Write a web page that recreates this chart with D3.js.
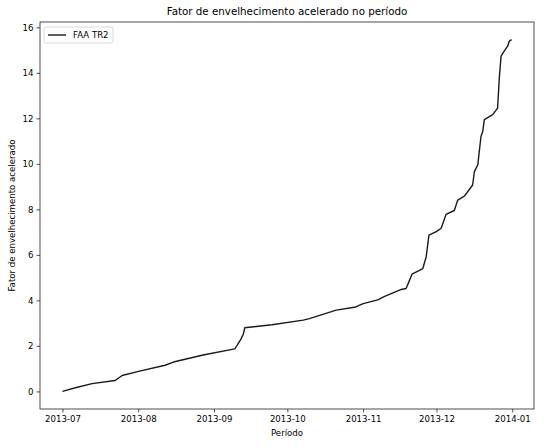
<!DOCTYPE html>
<html>
<head>
<meta charset="utf-8">
<script src="https://cdn.jsdelivr.net/npm/d3@7"></script>
<style>
  body { margin: 0; background: #fff; }
  text { font-family: "DejaVu Sans", sans-serif; fill: #000; }
</style>
</head>
<body>
<div class="chart"></div>
<script>
// series (date, accumulated ageing factor)
var dates = [
  "2013-07-01T00", "2013-07-06T07", "2013-07-13T02", "2013-07-22T14", "2013-07-25T10",
  "2013-08-01T02", "2013-08-12T00", "2013-08-15T10", "2013-08-27T12", "2013-09-09T12",
  "2013-09-10T12", "2013-09-12T00", "2013-09-13T00", "2013-09-13T14", "2013-09-24T17",
  "2013-10-07T12", "2013-10-10T00", "2013-10-21T00", "2013-10-29T00", "2013-11-01T00",
  "2013-11-07T00", "2013-11-09T19", "2013-11-16T14", "2013-11-18T14", "2013-11-20T00",
  "2013-11-21T00", "2013-11-25T10", "2013-11-26T19", "2013-11-27T22", "2013-11-30T22",
  "2013-12-02T22", "2013-12-04T22", "2013-12-08T07", "2013-12-09T17", "2013-12-12T10",
  "2013-12-15T19", "2013-12-16T12", "2013-12-17T22", "2013-12-18T12", "2013-12-19T05",
  "2013-12-19T22", "2013-12-20T14", "2013-12-24T00", "2013-12-26T00", "2013-12-26T17",
  "2013-12-27T10", "2013-12-28T17", "2013-12-30T02", "2013-12-30T19", "2013-12-31T17"
];
var faa = [
  0.00, 0.16, 0.34, 0.48, 0.70,
  0.88, 1.15, 1.29, 1.60, 1.87,
  2.03, 2.30, 2.52, 2.80, 2.93,
  3.13, 3.20, 3.57, 3.71, 3.86,
  4.02, 4.18, 4.48, 4.52, 4.89,
  5.15, 5.40, 5.92, 6.87, 7.02,
  7.17, 7.78, 7.95, 8.41, 8.58,
  9.07, 9.66, 9.96, 10.54, 11.20,
  11.42, 11.94, 12.16, 12.45, 13.78,
  14.73, 14.95, 15.17, 15.39, 15.46
];
var yTicks = [0, 2, 4, 6, 8, 10, 12, 14, 16];
var xTicks = ["2013-07-01", "2013-08-01", "2013-09-01", "2013-10-01", "2013-11-01", "2013-12-01", "2014-01-01"];
var seriesName = "FAA TR2";

var parseTime = d3.timeParse("%Y-%m-%dT%H");
var parseDay = d3.timeParse("%Y-%m-%d");

var data = dates.map(function(d, i) { return {date: parseTime(d), value: faa[i]}; });

var margin = {top: 22, right: 16, bottom: 39, left: 40},
    width = 550 - margin.left - margin.right,
    height = 448 - margin.top - margin.bottom;

var svg = d3.select(".chart").append("svg")
    .attr("width", width + margin.left + margin.right)
    .attr("height", height + margin.top + margin.bottom)
  .append("g")
    .attr("transform", "translate(" + margin.left + "," + margin.top + ")");

// matplotlib style 5% padding
var xExt = d3.extent(data, function(d) { return d.date; });
var xPad = (xExt[1] - xExt[0]) * 0.05;
var x = d3.scaleTime()
    .domain([new Date(+xExt[0] - xPad), new Date(+xExt[1] + xPad)])
    .range([0, width]);

var yExt = d3.extent(data, function(d) { return d.value; });
var yPad = (yExt[1] - yExt[0]) * 0.05;
var y = d3.scaleLinear()
    .domain([yExt[0] - yPad, yExt[1] + yPad])
    .range([height, 0]);

// axes
var xAxis = svg.append("g")
    .attr("transform", "translate(0," + height + ")")
    .call(d3.axisBottom(x)
      .tickValues(xTicks.map(parseDay))
      .tickFormat(d3.timeFormat("%Y-%m"))
      .tickSizeOuter(0).tickSize(3.5).tickPadding(3));

var yAxis = svg.append("g")
    .call(d3.axisLeft(y).tickValues(yTicks).tickFormat(d3.format("d"))
      .tickSizeOuter(0).tickSize(3.5).tickPadding(3));

[xAxis, yAxis].forEach(function(a) {
  a.select(".domain").remove();
  a.selectAll("line").attr("stroke", "#222").attr("stroke-width", 0.8);
  a.selectAll("text").style("font-size", "8.6px").style("font-family", "DejaVu Sans");
});

// frame
svg.append("rect")
    .attr("x", 0).attr("y", 0)
    .attr("width", width).attr("height", height)
    .attr("fill", "none")
    .attr("stroke", "#222")
    .attr("stroke-width", 0.8);

// line
var line = d3.line()
    .x(function(d) { return x(d.date); })
    .y(function(d) { return y(d.value); });

svg.append("path")
    .datum(data)
    .attr("fill", "none")
    .attr("stroke", "#1a1a1a")
    .attr("stroke-width", 1.4)
    .attr("stroke-linejoin", "round")
    .attr("d", line);

// title and labels
svg.append("text")
    .attr("x", width / 2)
    .attr("y", -7)
    .attr("text-anchor", "middle")
    .style("font-size", "10.3px")
    .text("Fator de envelhecimento acelerado no período");

svg.append("text")
    .attr("x", width / 2)
    .attr("y", height + 27)
    .attr("text-anchor", "middle")
    .style("font-size", "8.6px")
    .text("Período");

svg.append("text")
    .attr("transform", "rotate(-90)")
    .attr("x", -height / 2)
    .attr("y", -25)
    .attr("text-anchor", "middle")
    .style("font-size", "8.6px")
    .text("Fator de envelhecimento acelerado");

// legend
var legend = svg.append("g").attr("transform", "translate(4,5)");
legend.append("rect")
    .attr("width", 69).attr("height", 16)
    .attr("rx", 2).attr("ry", 2)
    .attr("fill", "#fff")
    .attr("stroke", "#d0d0d0")
    .attr("stroke-width", 0.8);
legend.append("line")
    .attr("x1", 4).attr("x2", 22)
    .attr("y1", 8).attr("y2", 8)
    .attr("stroke", "#1a1a1a")
    .attr("stroke-width", 1.4);
legend.append("text")
    .attr("x", 29).attr("y", 11)
    .style("font-size", "8.6px")
    .text(seriesName);
</script>
</body>
</html>
